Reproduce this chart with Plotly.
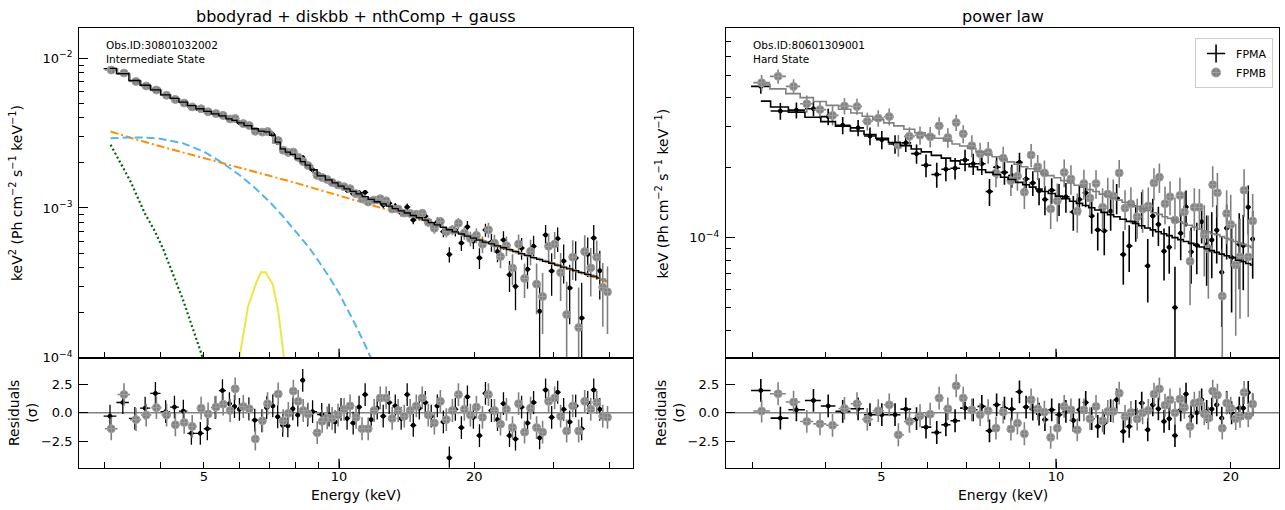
import numpy as np
import plotly.graph_objects as go

# ---------------- LEFT PANEL DATA (Intermediate state) ----------------
LA_E = [3.09, 3.30, 3.51, 3.70, 3.90, 4.11, 4.30, 4.50, 4.69, 4.91, 5.09, 5.30, 5.50, 5.70, 5.85, 6.00, 6.29, 6.49, 6.73, 6.90,
        7.12, 7.30, 7.49, 7.69, 7.89, 8.09, 8.30, 8.51, 8.73, 9.15, 9.50, 9.80, 10.10, 10.42, 10.75, 11.08, 11.43, 11.79, 12.16, 12.54,
        12.93, 13.34, 13.75, 14.18, 14.63, 15.09, 15.56, 16.04, 16.55, 17.07, 17.60, 18.15, 18.72, 19.31, 19.91, 20.54, 21.18, 21.84,
        22.53, 23.23, 23.96, 24.71, 25.49, 26.28, 27.11, 27.96, 28.83, 29.74, 30.67, 31.63, 32.62, 33.64, 34.69, 35.78, 36.90, 38.06]
LA_F = [8.52e-3, 7.99e-3, 7.06e-3, 6.63e-3, 6.28e-3, 5.71e-3, 5.43e-3, 5.11e-3, 4.72e-3, 4.50e-3, 4.32e-3, 4.28e-3, 4.25e-3, 3.98e-3,
        3.88e-3, 3.71e-3, 3.57e-3, 3.34e-3, 3.22e-3, 3.24e-3, 3.09e-3, 2.73e-3, 2.42e-3, 2.30e-3, 2.30e-3, 2.13e-3, 2.17e-3, 1.92e-3,
        1.80e-3, 1.63e-3, 1.529e-3, 1.429e-3, 1.416e-3, 1.315e-3, 1.246e-3, 1.264e-3, 1.27e-3, 1.111e-3, 1.122e-3, 1.049e-3, 1.076e-3,
        1.023e-3, 9.29e-4, 1.014e-3, 8.31e-4, 8.84e-4, 8.80e-4, 7.80e-4, 8.05e-4, 6.95e-4, 4.89e-4, 7.13e-4, 5.83e-4, 7.48e-4, 6.0e-4,
        4.64e-4, 7.13e-4, 5.91e-4, 5.11e-4, 6.11e-4, 3.58e-4, 2.99e-4, 5.40e-4, 3.89e-4, 5.54e-4, 2.04e-4, 6.6e-4, 3.79e-4, 6.24e-4,
        4.42e-4, 2.92e-4, 4.63e-4, 1.84e-4, 4.9e-4, 6.3e-4, 3.81e-4]
LA_DF = [1.0e-4, 9.5e-5, 8.5e-5, 8.0e-5, 7.4e-5, 6.8e-5, 6.5e-5, 6.1e-5, 5.8e-5, 5.5e-5, 7.1e-5, 6.8e-5, 6.6e-5, 6.3e-5, 6.2e-5,
         5.9e-5, 5.7e-5, 5.4e-5, 5.2e-5, 5.2e-5, 6.7e-5, 6.0e-5, 5.5e-5, 5.2e-5, 5.0e-5, 4.7e-5, 4.5e-5, 4.2e-5, 4.0e-5, 3.6e-5,
         5.4e-5, 5.1e-5, 5.3e-5, 5.1e-5, 4.9e-5, 4.7e-5, 5.0e-5, 4.8e-5, 5.5e-5, 5.3e-5, 5.2e-5, 5.4e-5, 5.3e-5, 5.6e-5, 5.3e-5,
         6.0e-5, 5.8e-5, 6.0e-5, 5.8e-5, 5.9e-5, 5.7e-5, 6.9e-5, 6.7e-5, 7.1e-5, 6.9e-5, 7.3e-5, 7.1e-5, 8.1e-5, 7.8e-5, 8.7e-5,
         8.4e-5, 9.2e-5, 8.9e-5, 1.01e-4, 9.8e-5, 1.13e-4, 1.1e-4, 1.2e-4, 1.16e-4, 1.29e-4, 1.25e-4, 1.37e-4, 1.33e-4, 1.44e-4,
         1.4e-4, 1.36e-4]
LA_M = [8.55e-3, 7.9e-3, 7.1e-3, 6.6e-3, 6.15e-3, 5.7e-3, 5.4e-3, 5.1e-3, 4.82e-3, 4.6e-3, 4.42e-3, 4.25e-3, 4.12e-3, 3.93e-3,
        3.85e-3, 3.7e-3, 3.55e-3, 3.38e-3, 3.26e-3, 3.22e-3, 3.05e-3, 2.75e-3, 2.48e-3, 2.36e-3, 2.28e-3, 2.14e-3, 2.04e-3, 1.93e-3,
        1.8e-3, 1.64e-3, 1.54e-3, 1.47e-3, 1.40e-3, 1.34e-3, 1.29e-3, 1.24e-3, 1.19e-3, 1.14e-3, 1.10e-3, 1.065e-3, 1.03e-3, 9.9e-4,
        9.55e-4, 9.25e-4, 8.9e-4, 8.6e-4, 8.28e-4, 7.98e-4, 7.7e-4, 7.42e-4, 7.15e-4, 6.92e-4, 6.7e-4, 6.48e-4, 6.28e-4, 6.1e-4,
        5.92e-4, 5.75e-4, 5.58e-4, 5.42e-4, 5.26e-4, 5.1e-4, 4.95e-4, 4.8e-4, 4.66e-4, 4.53e-4, 4.4e-4, 4.27e-4, 4.15e-4, 4.03e-4,
        3.92e-4, 3.81e-4, 3.7e-4, 3.6e-4, 3.5e-4, 3.4e-4]
LA_R = [-0.3, 0.9, -0.5, 0.4, 1.7, 0.1, 0.5, 0.15, -1.8, -1.8, -1.4, 0.45, 1.95, 0.8, 0.55, 0.3, 0.35, -0.65, -0.7, 0.45,
        0.6, -0.35, -1.1, -1.15, 0.35, -0.2, 2.85, -0.2, 0.1, -0.15,
        -0.2, -0.8, 0.3, -0.5, -0.9, 0.5, 1.6, -0.6, 0.4, -0.3, 0.9, 0.6, -0.5, 1.6, -1.1, 0.4, 0.9, -0.3, 0.6, -0.8, -3.95, 0.3,
        -1.3, 1.4, -0.4, -2.0, 1.7, 0.2, -0.6, 0.8, -2.0, -2.3, 0.5, -0.9, 0.9, -2.2, 2.0, -0.4, 1.8, 0.3, -0.8, 0.6, -1.4, 0.9,
        2.0, 0.3]

LB_E = [3.11, 3.32, 3.53, 3.72, 3.92, 4.13, 4.32, 4.52, 4.71, 4.93, 5.11, 5.32, 5.52, 5.72, 5.87, 6.12, 6.31, 6.51, 6.75, 6.93,
        7.32, 7.51, 7.71, 7.91, 8.11, 8.32, 8.53, 8.94, 9.17, 9.41, 9.65, 9.95, 10.26, 10.58, 10.91, 11.25, 11.61, 11.97, 12.35,
        12.73, 13.13, 13.54, 13.97, 14.40, 14.86, 15.32, 15.80, 16.30, 16.81, 17.33, 17.88, 18.44, 19.01, 19.61, 20.22, 20.86, 21.51,
        22.18, 22.88, 23.59, 24.33, 25.10, 25.88, 26.69, 27.53, 28.39, 29.28, 30.20, 31.14, 32.12, 33.13, 34.16, 35.23, 36.34, 37.47,
        38.65, 39.6]
LB_F = [8.34e-3, 7.97e-3, 7.0e-3, 6.53e-3, 6.13e-3, 5.66e-3, 5.30e-3, 5.02e-3, 4.73e-3, 4.60e-3, 4.39e-3, 4.27e-3, 4.15e-3, 3.93e-3,
        3.96e-3, 3.66e-3, 3.55e-3, 3.25e-3, 3.21e-3, 3.24e-3, 2.82e-3, 2.43e-3, 2.35e-3, 2.36e-3, 2.18e-3, 2.04e-3, 1.92e-3, 1.65e-3,
        1.60e-3, 1.55e-3, 1.479e-3, 1.425e-3, 1.386e-3, 1.345e-3, 1.246e-3, 1.150e-3, 1.096e-3, 1.129e-3, 1.153e-3, 1.116e-3, 9.85e-4,
        9.83e-4, 9.24e-4, 9.19e-4, 9.07e-4, 9.21e-4, 8.02e-4, 7.31e-4, 8.13e-4, 6.93e-4, 7.14e-4, 7.90e-4, 6.79e-4, 6.24e-4, 6.56e-4,
        5.72e-4, 7.14e-4, 5.82e-4, 4.73e-4, 5.60e-4, 3.97e-4, 5.74e-4, 3.38e-4, 5.13e-4, 3.10e-4, 2.56e-4, 5.54e-4, 5.74e-4, 3.70e-4,
        1.94e-4, 4.69e-4, 1.59e-4, 5.11e-4, 3.98e-4, 4.69e-4, 2.95e-4, 2.75e-4]
LB_DF = [1.0e-4, 9.4e-5, 8.5e-5, 7.9e-5, 7.3e-5, 6.8e-5, 6.4e-5, 6.1e-5, 5.8e-5, 5.5e-5, 7.0e-5, 6.8e-5, 6.6e-5, 6.3e-5, 6.1e-5,
         5.8e-5, 5.6e-5, 5.4e-5, 5.2e-5, 5.1e-5, 6.0e-5, 5.4e-5, 5.2e-5, 5.0e-5, 4.7e-5, 4.5e-5, 4.2e-5, 3.8e-5, 3.6e-5, 3.5e-5,
         5.3e-5, 5.0e-5, 5.2e-5, 5.0e-5, 4.8e-5, 4.6e-5, 4.9e-5, 4.7e-5, 5.4e-5, 5.2e-5, 5.1e-5, 5.3e-5, 5.2e-5, 5.4e-5, 5.3e-5,
         5.9e-5, 5.7e-5, 5.9e-5, 5.7e-5, 5.8e-5, 5.6e-5, 6.8e-5, 6.6e-5, 7.0e-5, 7.4e-5, 7.2e-5, 8.2e-5, 7.9e-5, 7.7e-5, 8.5e-5,
         9.3e-5, 9.0e-5, 8.8e-5, 9.9e-5, 1.15e-4, 1.12e-4, 1.21e-4, 1.18e-4, 1.31e-4, 1.27e-4, 1.39e-4, 1.35e-4, 1.46e-4, 1.42e-4,
         1.38e-4, 1.34e-4, 1.31e-4]
LB_M = [8.48e-3, 7.82e-3, 7.05e-3, 6.55e-3, 6.1e-3, 5.67e-3, 5.37e-3, 5.07e-3, 4.8e-3, 4.58e-3, 4.4e-3, 4.24e-3, 4.1e-3, 3.92e-3,
        3.83e-3, 3.63e-3, 3.53e-3, 3.37e-3, 3.25e-3, 3.2e-3, 2.72e-3, 2.47e-3, 2.35e-3, 2.27e-3, 2.13e-3, 2.03e-3, 1.92e-3, 1.72e-3,
        1.63e-3, 1.57e-3, 1.505e-3, 1.435e-3, 1.37e-3, 1.315e-3, 1.265e-3, 1.215e-3, 1.165e-3, 1.12e-3, 1.083e-3, 1.048e-3, 1.01e-3,
        9.72e-4, 9.4e-4, 9.08e-4, 8.75e-4, 8.44e-4, 8.13e-4, 7.84e-4, 7.56e-4, 7.28e-4, 7.03e-4, 6.81e-4, 6.59e-4, 6.38e-4, 6.19e-4,
        6.01e-4, 5.83e-4, 5.66e-4, 5.5e-4, 5.34e-4, 5.18e-4, 5.02e-4, 4.87e-4, 4.73e-4, 4.59e-4, 4.46e-4, 4.33e-4, 4.21e-4, 4.09e-4,
        3.97e-4, 3.86e-4, 3.75e-4, 3.65e-4, 3.55e-4, 3.45e-4, 3.35e-4, 3.27e-4]
LB_R = [-1.4, 1.6, -0.6, -0.2, 0.45, -0.2, -1.05, -0.85, -1.2, 0.4, -0.1, 0.5, 0.75, 0.2, 2.1, 0.55, 0.35, -2.3, -0.7, 0.8,
        1.65, -0.7, -0.05, 1.9, 1.0, 0.2, -0.1, -1.75, -0.75, -0.45,
        -0.5, -0.2, 0.3, 0.6, -0.4, -1.4, -1.4, 0.2, 1.3, 1.3, -0.5, 0.2, -0.3, 0.2, 0.6, 1.3, -0.2, -0.9, 1.0, -0.6, 0.2, 1.6,
        0.3, -0.2, 0.5, -0.4, 1.6, 0.2, -1.0, 0.3, -1.3, 0.8, -1.7, 0.4, -1.3, -1.7, 1.0, 1.3, -0.3, -1.6, 0.6, -1.6, 1.0, 0.3,
        0.9, -0.3, -0.4]

# model components (keV^2 units)
NTH_E = [3.1, 3.5, 4.0, 4.5, 5.0, 6.0, 7.0, 8.0, 9.0, 10.0, 12.0, 15.0, 20.0, 25.0, 30.0, 35.0, 39.5]
NTH_V = [3.24e-3, 2.89e-3, 2.58e-3, 2.35e-3, 2.16e-3, 1.86e-3, 1.64e-3, 1.47e-3, 1.33e-3, 1.21e-3, 1.03e-3, 8.5e-4, 6.4e-4,
         5.1e-4, 4.2e-4, 3.6e-4, 3.2e-4]
DISK_E = [3.1, 3.4, 3.7, 4.0, 4.5, 5.0, 5.5, 6.0, 6.5, 7.0, 7.5, 8.0, 8.6, 9.0, 9.5, 10.0, 10.5, 11.0, 11.6, 12.0]
DISK_V = [2.92e-3, 2.96e-3, 2.95e-3, 2.9e-3, 2.7e-3, 2.38e-3, 2.0e-3, 1.66e-3, 1.36e-3, 1.1e-3, 8.8e-4, 7.0e-4, 5.37e-4,
          4.42e-4, 3.47e-4, 2.69e-4, 2.04e-4, 1.55e-4, 1.1e-4, 8.7e-5]
BB_E = [3.1, 3.43, 3.7, 3.87, 4.05, 4.5, 4.97, 5.5]
BB_V = [2.64e-3, 1.51e-3, 9.1e-4, 7.2e-4, 5.4e-4, 2.4e-4, 1.0e-4, 3.8e-5]
GAU_E = [5.8, 6.0, 6.27, 6.54, 6.7, 6.86, 7.12, 7.31, 7.54, 7.7]
GAU_V = [5.0e-5, 1.0e-4, 2.2e-4, 3.16e-4, 3.72e-4, 3.72e-4, 3.08e-4, 2.1e-4, 1.0e-4, 5.0e-5]

# ---------------- RIGHT PANEL DATA (Hard state) ----------------
RA_E = [3.10, 3.35, 3.57, 3.82, 4.05, 4.29, 4.56, 4.78, 5.01, 5.28, 5.51, 5.75, 5.97, 6.23, 6.46, 6.70, 6.97, 7.20, 7.45, 7.68,
        7.90, 8.15, 8.39, 8.65, 8.88, 9.12, 9.35, 9.57, 9.83, 10.12, 10.40, 10.71, 10.97, 11.25, 11.52, 11.80, 12.11, 12.42, 12.72,
        13.06, 13.37, 13.72, 14.05, 14.39, 14.68, 15.01, 15.35, 15.67, 16.03, 16.40, 16.75, 17.09, 17.48, 17.82, 18.18, 18.55,
        18.92, 19.30, 19.68, 20.07, 20.69, 21.02, 21.44, 21.82]
RA_F = [4.48e-4, 3.51e-4, 3.54e-4, 3.59e-4, 3.32e-4, 3.05e-4, 2.97e-4, 2.74e-4, 2.64e-4, 2.53e-4, 2.56e-4, 2.30e-4, 2.05e-4,
        1.87e-4, 1.97e-4, 1.99e-4, 2.16e-4, 2.08e-4, 2.08e-4, 1.58e-4, 2.01e-4, 1.91e-4, 1.85e-4, 2.11e-4, 1.79e-4, 1.72e-4,
        1.59e-4, 1.46e-4, 1.60e-4, 1.47e-4, 1.50e-4, 1.29e-4, 1.46e-4, 1.56e-4, 1.24e-4, 1.08e-4, 1.07e-4, 1.30e-4, 1.48e-4,
        8.46e-5, 9.21e-5, 1.17e-4, 1.33e-4, 7.56e-5, 1.24e-4, 1.14e-4, 8.74e-5, 9.09e-5, 5.0e-5, 1.044e-4, 1.356e-4, 8.69e-5,
        9.27e-5, 1.171e-4, 9.33e-5, 9.77e-5, 1.076e-4, 7.09e-5, 1.098e-4, 8.21e-5, 9.36e-5, 9.24e-5, 1.353e-4, 9.86e-5]
RA_DF = [3.1e-5, 2.9e-5, 2.8e-5, 2.6e-5, 2.7e-5, 2.6e-5, 2.4e-5, 2.4e-5, 2.4e-5, 2.3e-5, 2.2e-5, 2.2e-5, 2.3e-5, 2.3e-5,
         2.2e-5, 2.1e-5, 2.3e-5, 2.2e-5, 2.2e-5, 2.1e-5, 2.1e-5, 2.2e-5, 2.1e-5, 2.1e-5, 2.0e-5, 2.1e-5, 2.1e-5, 2.1e-5,
         2.0e-5, 2.3e-5, 2.2e-5, 2.2e-5, 2.1e-5, 2.1e-5, 2.0e-5, 2.0e-5, 2.3e-5, 2.3e-5, 2.2e-5, 2.2e-5, 2.1e-5, 2.1e-5,
         2.4e-5, 2.3e-5, 2.3e-5, 2.2e-5, 2.2e-5, 2.1e-5, 2.5e-5, 2.45e-5, 2.4e-5, 2.36e-5, 2.32e-5, 2.28e-5, 3.13e-5, 3.08e-5,
         3.02e-5, 2.97e-5, 2.92e-5, 3.45e-5, 3.36e-5, 3.31e-5, 3.25e-5, 3.2e-5]
RA_M = [3.87e-4, 3.65e-4, 3.47e-4, 3.30e-4, 3.16e-4, 3.02e-4, 2.88e-4, 2.78e-4, 2.68e-4, 2.57e-4, 2.49e-4, 2.41e-4, 2.34e-4,
        2.26e-4, 2.20e-4, 2.14e-4, 2.07e-4, 2.02e-4, 1.96e-4, 1.91e-4, 1.87e-4, 1.82e-4, 1.78e-4, 1.73e-4, 1.69e-4, 1.65e-4,
        1.62e-4, 1.58e-4, 1.55e-4, 1.51e-4, 1.47e-4, 1.435e-4, 1.405e-4, 1.375e-4, 1.345e-4, 1.315e-4, 1.285e-4, 1.255e-4,
        1.23e-4, 1.20e-4, 1.175e-4, 1.15e-4, 1.125e-4, 1.10e-4, 1.08e-4, 1.06e-4, 1.04e-4, 1.02e-4, 1.0e-4, 9.8e-5, 9.62e-5,
        9.45e-5, 9.27e-5, 9.11e-5, 8.95e-5, 8.79e-5, 8.64e-5, 8.49e-5, 8.35e-5, 8.21e-5, 7.99e-5, 7.88e-5, 7.74e-5, 7.62e-5]
RA_R = [1.96, -0.47, 0.26, 1.08, 0.6, 0.12, 0.35, -0.17, -0.17, -0.17, 0.32, -0.52, -1.26, -1.73, -1.05, -0.7, 0.41, 0.26,
        0.56, -1.58, 0.7, 0.41, 0.32, 1.84, 0.5, 0.32, -0.12, -0.6, 0.26, -0.17, 0.12, -0.67, 0.26, 0.9, -0.52, -1.2, -0.91,
        0.18, 1.14, -1.64, -1.2, 0.12, 0.85, -1.49, 0.7, 0.35, -0.76, -0.52, -2.0, 0.26, 1.64, -0.32, 0.0, 1.14, 0.12, 0.32,
        0.7, -0.47, 0.9, 0.0, 0.41, 0.41, 1.78, 0.7]

RB_E = [3.11, 3.32, 3.53, 3.72, 3.92, 4.12, 4.32, 4.54, 4.73, 4.94, 5.16, 5.35, 5.59, 5.83, 6.07, 6.29, 6.51, 6.73, 6.92, 7.16,
        7.40, 7.64, 7.88, 8.11, 8.36, 8.58, 8.82, 9.06, 9.30, 9.55, 9.79, 10.05, 10.33, 10.61, 10.88, 11.17, 11.44, 11.72, 12.03,
        12.28, 12.55, 12.85, 13.15, 13.46, 13.80, 14.10, 14.42, 14.75, 15.07, 15.41, 15.72, 16.03, 16.35, 16.64, 17.02, 17.31,
        17.66, 18.01, 18.30, 18.62, 18.97, 19.34, 19.68, 20.00, 20.40, 20.75, 21.09, 21.44, 21.82]
RB_F = [4.65e-4, 4.95e-4, 4.48e-4, 3.77e-4, 3.56e-4, 3.36e-4, 3.69e-4, 3.67e-4, 3.17e-4, 3.27e-4, 3.32e-4, 2.50e-4, 2.73e-4,
        2.76e-4, 2.72e-4, 3.03e-4, 2.70e-4, 3.13e-4, 2.80e-4, 2.49e-4, 2.30e-4, 2.33e-4, 1.90e-4, 2.20e-4, 1.76e-4, 1.84e-4,
        1.57e-4, 2.27e-4, 2.02e-4, 1.90e-4, 1.33e-4, 1.44e-4, 1.91e-4, 1.79e-4, 1.30e-4, 1.71e-4, 1.48e-4, 1.71e-4, 1.35e-4,
        1.54e-4, 1.51e-4, 1.90e-4, 1.34e-4, 1.40e-4, 1.23e-4, 1.33e-4, 1.37e-4, 1.72e-4, 1.82e-4, 1.40e-4, 1.50e-4, 1.19e-4,
        1.52e-4, 1.29e-4, 7.91e-5, 1.35e-4, 1.35e-4, 1.03e-4, 8.96e-5, 1.69e-4, 1.56e-4, 5.6e-5, 1.27e-4, 1.14e-4, 7.63e-5,
        8.27e-5, 1.60e-4, 8.25e-5, 1.18e-4]
RB_DF = [3.7e-5, 3.5e-5, 3.3e-5, 3.2e-5, 3.1e-5, 3.2e-5, 3.0e-5, 2.9e-5, 2.8e-5, 2.7e-5, 2.8e-5, 2.7e-5, 2.6e-5, 2.5e-5,
         2.75e-5, 2.7e-5, 2.6e-5, 2.5e-5, 2.5e-5, 2.7e-5, 2.6e-5, 2.5e-5, 2.5e-5, 2.6e-5, 2.5e-5, 2.5e-5, 2.4e-5, 2.6e-5,
         2.5e-5, 2.5e-5, 2.4e-5, 2.7e-5, 2.6e-5, 2.6e-5, 2.5e-5, 2.5e-5, 2.4e-5, 2.4e-5, 2.8e-5, 2.7e-5, 2.7e-5, 2.6e-5,
         2.6e-5, 2.5e-5, 2.4e-5, 2.8e-5, 2.75e-5, 2.7e-5, 2.65e-5, 2.6e-5, 2.5e-5, 3.0e-5, 2.9e-5, 2.9e-5, 2.8e-5, 2.8e-5,
         2.7e-5, 3.5e-5, 3.5e-5, 3.4e-5, 3.4e-5, 3.3e-5, 3.3e-5, 3.9e-5, 3.85e-5, 3.8e-5, 3.7e-5, 3.7e-5, 3.6e-5]
RB_M = [4.59e-4, 4.37e-4, 4.17e-4, 4.01e-4, 3.86e-4, 3.71e-4, 3.57e-4, 3.44e-4, 3.33e-4, 3.22e-4, 3.12e-4, 3.03e-4, 2.93e-4,
        2.83e-4, 2.75e-4, 2.68e-4, 2.61e-4, 2.53e-4, 2.48e-4, 2.42e-4, 2.34e-4, 2.28e-4, 2.23e-4, 2.18e-4, 2.12e-4, 2.07e-4,
        2.02e-4, 1.98e-4, 1.93e-4, 1.89e-4, 1.85e-4, 1.81e-4, 1.76e-4, 1.72e-4, 1.68e-4, 1.65e-4, 1.61e-4, 1.58e-4, 1.54e-4,
        1.51e-4, 1.48e-4, 1.45e-4, 1.42e-4, 1.39e-4, 1.36e-4, 1.33e-4, 1.31e-4, 1.28e-4, 1.26e-4, 1.23e-4, 1.21e-4, 1.19e-4,
        1.17e-4, 1.15e-4, 1.13e-4, 1.11e-4, 1.09e-4, 1.07e-4, 1.06e-4, 1.04e-4, 1.03e-4, 1.01e-4, 9.94e-5, 9.8e-5, 9.63e-5,
        9.48e-5, 9.35e-5, 9.21e-5, 9.07e-5]
RB_R = [0.15, 1.67, 0.94, -0.76, -0.97, -1.1, 0.38, 0.79, -0.58, 0.18, 0.7, -1.93, -0.76, -0.26, -0.12, 1.29, 0.35, 2.37,
        1.29, 0.26, -0.17, 0.18, -1.35, 0.06, -1.43, -0.91, -1.84, 1.14, 0.35, 0.06, -2.16, -1.35, 0.56, 0.26, -1.49, 0.26,
        -0.52, 0.56, -0.7, 0.12, 0.12, 1.72, -0.32, 0.03, -0.55, 0.0, 0.21, 1.64, 2.1, 0.67, 1.14, 0.0, 1.2, 0.47, -1.2, 0.85,
        0.94, -0.1, -0.47, 1.9, 1.55, -1.35, 0.85, 0.41, -0.52, -0.32, 1.78, -0.26, 0.76]

# ---------------- STYLE ----------------
FONT = "DejaVu Sans"
GRAY = "#808080"
W, H = 1285, 510


def half_widths(E):
    E = np.asarray(E, float)
    edges = np.sqrt(E[:-1] * E[1:])
    lo = np.concatenate([[E[0] ** 2 / edges[0]], edges])
    hi = np.concatenate([edges, [E[-1] ** 2 / edges[-1]]])
    return E - lo, hi - E


def data_trace(E, Y, xa, ya, color, symbol, size, lw, yerr=None, const=None, mline=None):
    mi, pl = half_widths(E)
    if const is not None:
        ey = dict(type="constant", value=const, color=color, thickness=lw, width=0)
    else:
        ey = dict(type="data", array=yerr, color=color, thickness=lw, width=0)
    return go.Scatter(
        x=E, y=Y, mode="markers", xaxis=xa, yaxis=ya, showlegend=False, hoverinfo="skip",
        marker=dict(color=color, symbol=symbol, size=size,
                    line=dict(color=mline or color, width=1)),
        error_x=dict(type="data", symmetric=False, array=pl, arrayminus=mi, color=color, thickness=lw, width=0),
        error_y=ey)


def model_trace(E, M, xa, ya, color, width):
    return go.Scatter(x=E, y=M, mode="lines", xaxis=xa, yaxis=ya, showlegend=False, hoverinfo="skip",
                      line=dict(shape="hvh", color=color, width=width))


def comp_trace(E, V, color, dash, width):
    return go.Scatter(x=E, y=V, mode="lines", xaxis="x", yaxis="y", showlegend=False, hoverinfo="skip",
                      line=dict(color=color, dash=dash, width=width))


traces = []
# left top: components
traces.append(comp_trace(NTH_E, NTH_V, "#ff8c00", "8px,3px,2px,3px", 2))
traces.append(comp_trace(DISK_E, DISK_V, "#56b4e9", "8px,4px", 2))
traces.append(comp_trace(BB_E, BB_V, "#006400", "2px,2.5px", 2.2))
traces.append(comp_trace(GAU_E, GAU_V, "#f0e442", None, 2))
# left top data
traces.append(data_trace(LA_E, LA_F, "x", "y", "black", "circle", 4, 1.3, yerr=LA_DF))
traces.append(data_trace(LB_E, LB_F, "x", "y", GRAY, "circle-cross", 8, 1.6, yerr=LB_DF, mline="#a0a0a0"))
traces.append(model_trace(LB_E, LB_M, "x", "y", GRAY, 1.5))
traces.append(model_trace(LA_E, LA_M, "x", "y", "black", 1.3))
# left residuals
traces.append(data_trace(LA_E, LA_R, "x2", "y2", "black", "circle", 4, 1.3, const=1))
traces.append(data_trace(LB_E, LB_R, "x2", "y2", GRAY, "circle-cross", 8, 1.6, const=1, mline="#a0a0a0"))
# right top data
traces.append(data_trace(RA_E, RA_F, "x3", "y3", "black", "circle", 4, 1.6, yerr=RA_DF))
traces.append(data_trace(RB_E, RB_F, "x3", "y3", GRAY, "circle-cross", 8, 1.6, yerr=RB_DF, mline="#a0a0a0"))
traces.append(model_trace(RA_E, RA_M, "x3", "y3", "black", 1.6))
traces.append(model_trace(RB_E, RB_M, "x3", "y3", GRAY, 1.6))
# right residuals
traces.append(data_trace(RA_E, RA_R, "x4", "y4", "black", "circle", 4, 1.6, const=1))
traces.append(data_trace(RB_E, RB_R, "x4", "y4", GRAY, "circle-cross", 8, 1.6, const=1, mline="#a0a0a0"))
# legend entries
traces.append(go.Scatter(x=[None], y=[None], xaxis="x3", yaxis="y3", mode="markers", name="FPMA",
                         marker=dict(symbol="cross-thin", size=13, color="black", line=dict(color="black", width=1.6))))
traces.append(go.Scatter(x=[None], y=[None], xaxis="x3", yaxis="y3", mode="markers", name="FPMB",
                         marker=dict(symbol="circle-cross", size=9, color=GRAY, line=dict(color="#a0a0a0", width=1))))

fig = go.Figure(traces)

XL = [0.06171, 0.49284]
XR = [0.56498, 0.99556]
YT = [0.2986, 0.9445]
YB = [0.0829, 0.2986]

tickfont = dict(family=FONT, size=13, color="black")
LW = 1.4


def xax(domain, anchor, rng, minor_vals, labels):
    d = dict(domain=domain, anchor=anchor, type="log", range=rng, showline=True, mirror=True, linecolor="black",
             linewidth=LW, ticks="inside", ticklen=5.5, tickwidth=1.3, tickcolor="black", automargin=False,
             tickvals=[5, 10, 20], ticktext=["5", "10", "20"], showticklabels=labels, showgrid=False, zeroline=False,
             tickfont=tickfont, ticklabelstandoff=-4,
             minor=dict(tickvals=minor_vals, ticks="inside", ticklen=5.5, tickwidth=1.3, tickcolor="black", showgrid=False))
    return d


def yres(domain, anchor):
    return dict(domain=domain, anchor=anchor, range=[-4.82, 4.83], showline=True, mirror=True, linecolor="black",
                linewidth=LW, ticks="inside", ticklen=9, tickwidth=1.3, tickcolor="black", automargin=False,
                tickvals=[2.5, 0, -2.5], ticktext=["2.5", "0.0", "\u22122.5"], showgrid=False, zeroline=False,
                tickfont=tickfont, ticklabelstandoff=3)


LX_MINOR = [3, 4, 6, 7, 8, 9, 30, 40]
RX_MINOR = [3, 4, 6, 7, 8, 9]
LXR = [np.log10(2.64), np.log10(45.2)]
RXR = [np.log10(2.70), np.log10(24.25)]

fig.update_layout(
    template="none",
    width=W, height=H, autosize=False, margin=dict(l=0, r=0, t=0, b=0, pad=0),
    paper_bgcolor="white", plot_bgcolor="white", font=dict(family=FONT, color="black"),
    xaxis=xax(XL, "y", LXR, LX_MINOR, False),
    xaxis2=xax(XL, "y2", LXR, LX_MINOR, True),
    xaxis3=xax(XR, "y3", RXR, RX_MINOR, False),
    xaxis4=xax(XR, "y4", RXR, RX_MINOR, True),
    yaxis=dict(domain=YT, anchor="x", type="log", range=[-4.0005, -1.8], showline=True, mirror=True,
               linecolor="black", linewidth=LW, ticks="inside", ticklen=9, tickwidth=1.3, tickcolor="black",
               automargin=False,
               tickvals=[1e-4, 1e-3, 1e-2], ticktext=["10<sup>\u22124</sup>", "10<sup>\u22123</sup>", "10<sup>\u22122</sup>"],
               showgrid=False, zeroline=False, tickfont=tickfont, ticklabelstandoff=3,
               minor=dict(tickvals=[2e-4, 3e-4, 4e-4, 5e-4, 6e-4, 7e-4, 8e-4, 9e-4, 2e-3, 3e-3, 4e-3, 5e-3, 6e-3, 7e-3, 8e-3, 9e-3],
                          ticks="inside", ticklen=5, tickwidth=1.2, tickcolor="black", showgrid=False)),
    yaxis2=yres(YB, "x2"),
    yaxis3=dict(domain=YT, anchor="x3", type="log", range=[np.log10(3.04e-5), np.log10(7.97e-4)], showline=True,
                mirror=True, linecolor="black", linewidth=LW, ticks="inside", ticklen=9, tickwidth=1.3,
                tickcolor="black", automargin=False, tickvals=[1e-4], ticktext=["10<sup>\u22124</sup>"], showgrid=False,
                zeroline=False, tickfont=tickfont, ticklabelstandoff=3,
                minor=dict(tickvals=[4e-5, 5e-5, 6e-5, 7e-5, 8e-5, 9e-5, 2e-4, 3e-4, 4e-4, 5e-4, 6e-4, 7e-4],
                           ticks="inside", ticklen=5, tickwidth=1.2, tickcolor="black", showgrid=False)),
    yaxis4=yres(YB, "x4"),
    showlegend=True,
    legend=dict(x=0.9907, xanchor="right", y=0.9255, yanchor="top", bgcolor="white", bordercolor="#cccccc",
                borderwidth=1, font=dict(family=FONT, size=11, color="black"), tracegroupgap=0, itemwidth=30),
)

shapes = []
for xr, yr in [("x2 domain", "y2"), ("x4 domain", "y4")]:
    shapes.append(dict(type="line", xref=xr, yref=yr, x0=0, x1=1, y0=0, y1=0, layer="below",
                       line=dict(color=GRAY, width=1.4)))
# longer major tick at 10 keV
for xr, yr in [("x", "y domain"), ("x2", "y2 domain"), ("x3", "y3 domain"), ("x4", "y4 domain")]:
    shapes.append(dict(type="line", xref=xr, yref=yr, x0=10, x1=10, ysizemode="pixel", yanchor=0, y0=0, y1=9,
                       line=dict(color="black", width=1.3)))
fig.update_layout(shapes=shapes)

ann = []


def A(text, x, y, size, xanchor="center", yanchor="middle", angle=0, align="center"):
    ann.append(dict(text=text, x=x / W, y=1 - y / H, xref="paper", yref="paper", showarrow=False,
                    xanchor=xanchor, yanchor=yanchor, textangle=angle, align=align,
                    font=dict(family=FONT, size=size, color="black")))


A("bbodyrad + diskbb + nthComp + gauss", 356.3, 16, 16)
A("power law", 1002.7, 16, 16)
A("Energy (keV)", 356.3, 495, 14)
A("Energy (keV)", 1002.7, 495, 14)
A("keV<sup>2</sup> (Ph cm<sup>\u22122</sup> s<sup>\u22121</sup> keV<sup>\u22121</sup>)", 16, 193, 14, angle=-90)
A("keV (Ph cm<sup>\u22122</sup> s<sup>\u22121</sup> keV<sup>\u22121</sup>)", 662.5, 193, 14, angle=-90)
A("Residuals<br>(\u03c3)", 23, 413, 14, angle=-90)
A("Residuals<br>(\u03c3)", 670, 413, 14, angle=-90)
A("Obs.ID:30801032002<br>Intermediate State", 104, 37, 10.5, xanchor="left", yanchor="top", align="left")
A("Obs.ID:80601309001<br>Hard State", 751, 37, 10.5, xanchor="left", yanchor="top", align="left")
fig.update_layout(annotations=ann)

fig.write_html("out.html", config={"displayModeBar": False},
               post_script="document.body.style.margin='0px';document.body.style.overflow='hidden';")
